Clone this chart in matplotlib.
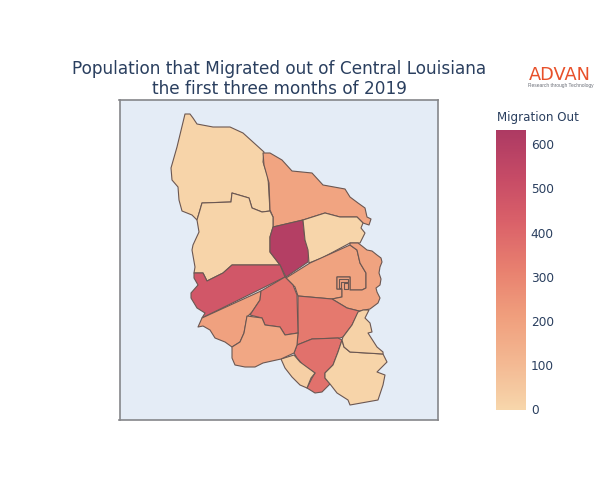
import matplotlib
matplotlib.use("Agg")
import matplotlib.pyplot as plt
from matplotlib.colors import LinearSegmentedColormap, Normalize
from matplotlib.cm import ScalarMappable
from matplotlib.patches import Polygon

title_lines = "Population that Migrated out of Central Louisiana\nthe first three months of 2019"
colorbar_title = "Migration Out"
tick_values = [0, 100, 200, 300, 400, 500, 600]

north_west = [(185,114),(190,114),(193,118),(197,124),(213,127),(230,127),(243,133),(264,152),(263,162),(268,177),(270,211),(262,212),(252,208),(249,198),(232,193),(231,202),(202,203),(200,210),(197,220),(192,215),(182,211),(179,200),(178,187),(172,180),(171,168),(177,147)]
north_centre = [(263,153),(270,153),(282,160),(292,171),(312,173),(323,185),(345,189),(350,197),(358,203),(365,208),(367,217),(371,219),(369,225),(363,223),(357,217),(340,217),(325,213),(303,220),(273,227),(273,217),(270,210),(269,183),(264,165)]
west_mid = [(202,203),(231,202),(232,193),(249,198),(252,208),(262,212),(270,211),(273,217),(273,227),(270,237),(270,252),(280,265),(232,265),(223,273),(207,281),(203,273),(194,273),(195,267),(192,250),(193,245),(199,232),(197,220),(200,210)]
core = [(273,227),(303,220),(305,240),(309,250),(308,262),(286,277),(280,265),(270,252),(270,237)]
east_upper = [(303,220),(325,213),(340,217),(357,217),(363,223),(361,228),(365,233),(360,243),(350,243),(322,258),(309,263),(308,250),(305,240)]
central = [(310,263),(350,245),(357,250),(360,263),(366,273),(366,288),(362,290),(350,290),(350,277),(337,277),(337,289),(342,289),(342,297),(332,299),(298,296),(295,287),(286,278)]
east_bend = [(350,243),(358,243),(362,246),(367,250),(372,251),(377,255),(381,258),(382,262),(380,267),(379,273),(381,279),(380,285),(376,288),(377,292),(380,298),(378,303),(370,309),(359,311),(347,308),(332,299),(342,297),(342,289),(337,289),(337,277),(350,277),(350,290),(362,290),(366,288),(366,273),(360,263),(357,250),(350,245)]
prong_a = [(339,279),(348,279),(348,282),(341,282),(341,288),(339,288)]
prong_b = [(344,283),(348,283),(348,289),(344,289)]
south_centre = [(298,296),(332,299),(347,308),(359,311),(352,325),(343,337),(340,338),(312,339),(297,345),(298,333)]
south_lower = [(297,345),(312,339),(338,338),(342,340),(338,352),(333,365),(325,373),(325,378),(330,384),(322,392),(315,393),(307,388),(312,378),(315,373),(303,365),(297,358),(294,353)]
south_left = [(281,359),(294,355),(300,362),(315,373),(311,378),(307,388),(300,385),(292,377),(285,368)]
south_east = [(342,340),(344,347),(350,352),(383,354),(387,362),(377,372),(385,375),(383,385),(378,400),(350,405),(348,400),(337,393),(330,384),(325,378),(325,373),(333,365),(338,352)]
east_lower = [(358,312),(363,310),(369,310),(365,318),(370,323),(372,332),(368,333),(377,347),(383,352),(383,354),(350,352),(344,347),(342,340),(343,337),(352,325)]
west_band = [(194,273),(203,273),(207,281),(223,273),(232,265),(280,265),(285,277),(202,318),(205,313),(197,308),(191,298),(191,293),(198,285),(194,278)]
west_wedge = [(202,318),(261,291),(260,300),(252,312),(247,317),(244,333),(240,342),(232,347),(225,342),(215,338),(210,330),(203,326),(198,327)]
mid_coral = [(261,291),(285,277),(293,285),(297,295),(298,333),(285,335),(280,327),(265,325),(262,318),(250,315),(252,312),(260,300)]
mid_lower = [(247,316),(262,318),(265,325),(280,327),(285,335),(298,333),(297,345),(294,353),(281,359),(263,363),(255,367),(245,367),(235,365),(232,358),(232,347),(240,342),(244,333)]

region_shapes = [north_west, north_centre, west_mid, core, east_upper, central, east_bend, prong_a, prong_b, south_centre,
                 south_lower, south_left, south_east, east_lower, west_band, west_wedge, mid_coral, mid_lower]
migration_out = [8, 190, 8, 600, 6, 195, 195, 195, 195, 340, 370, 25, 8, 15, 470, 200, 365, 175]

cmap = LinearSegmentedColormap.from_list("migration", [
    (0.00, "#f7d6ab"), (0.16, "#f3b993"), (0.33, "#f09f7d"), (0.50, "#e8806f"),
    (0.67, "#da6169"), (0.83, "#c64b66"), (1.00, "#ad3a63")])
norm = Normalize(0, 632)

ink = "#2a3f5f"
fig = plt.figure(figsize=(6, 5), dpi=100)
ax = fig.add_axes([119.5/600, 1-419.5/500, 319/600, 320/500])
ax.set_facecolor("#e4ecf6")
for shape, value in zip(region_shapes, migration_out):
    ax.add_patch(Polygon(shape, closed=True, facecolor=cmap(norm(value)), edgecolor="#6b5752", linewidth=0.8, joinstyle="round"))
ax.set_xlim(119.5, 438.5)
ax.set_ylim(419.5, 99.5)
ax.set_xticks([]); ax.set_yticks([])
for s in ax.spines.values():
    s.set_color("#85868a"); s.set_linewidth(1.2)

fig.text(279/600, 1-79/500, title_lines, ha="center", va="center", fontsize=12.2, color=ink, linespacing=1.15, family="DejaVu Sans")

cax = fig.add_axes([496/600, 1-409.5/500, 30/600, 279.5/500])
cb = fig.colorbar(ScalarMappable(norm=norm, cmap=cmap), cax=cax)
cb.outline.set_visible(False)
cb.set_ticks(tick_values)
cax.tick_params(length=0, pad=3.5, labelsize=8.7, labelcolor=ink)
fig.text(497/600, 1-118/500, colorbar_title, ha="left", va="center", fontsize=8.6, color=ink)

fig.text(560/600, 1-74.5/500, "ADVAN", ha="center", va="center", fontsize=12.8, color="#e8502a", family="DejaVu Sans")
fig.text(560.5/600, 1-86/500, "Research through Technology", ha="center", va="center", fontsize=3.5, color="#6b6f78", family="Liberation Sans")

fig.savefig("out.png", dpi=100, facecolor="white")
